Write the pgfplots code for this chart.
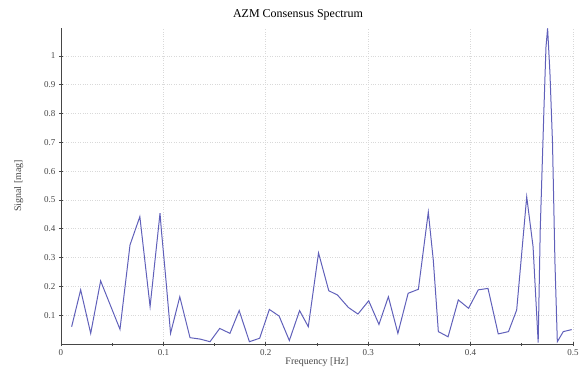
\documentclass[border=0pt]{standalone}
\usepackage{fontspec}
\setmainfont{Liberation Serif}
\usepackage{pgfplots}
\pgfplotsset{compat=1.18}
\definecolor{lineblue}{RGB}{96,96,186}
\definecolor{axgray}{RGB}{70,70,70}
\begin{document}
\begin{tikzpicture}
\begin{axis}[
  at={(0,0)}, anchor=south west,
  scale only axis, width=512pt, height=316pt,
  xmin=0, xmax=0.5, ymin=0, ymax=1.097,
  axis lines*=left,
  axis line style={axgray, line width=0.7pt},
  xtick={0,0.1,0.2,0.3,0.4,0.5},
  xticklabels={0,0.1,0.2,0.3,0.4,0.5},
  minor xtick={0.05,0.15,0.25,0.35,0.45},
  ytick={0.1,0.2,0.3,0.4,0.5,0.6,0.7,0.8,0.9,1},
  yticklabels={0.1,0.2,0.3,0.4,0.5,0.6,0.7,0.8,0.9,1},
  tick style={axgray, line width=0.6pt},
  major tick length=4pt, minor tick length=3pt,
  tick align=center,
  grid=major,
  major grid style={gray!30, dotted, line width=0.6pt},
  ticklabel style={font=\fontsize{9}{10}\selectfont, text=axgray},
  /pgf/number format/assume math mode=true,
  title={AZM Consensus Spectrum},
  title style={font=\fontsize{12}{14}\selectfont, at={(0.463,1)}, yshift=-2pt},
  xlabel={Frequency [Hz]},
  ylabel={Signal [mag]},
  label style={font=\fontsize{10}{11}\selectfont, text=axgray},
  xlabel style={yshift=5pt},
  ylabel style={yshift=14pt},
]
\addplot[color=lineblue, line width=1pt, mark=none] coordinates {
(0.0104,0.060) (0.0192,0.188) (0.029,0.037) (0.0387,0.219) (0.0576,0.051)
(0.0674,0.344) (0.077,0.442) (0.087,0.130) (0.0967,0.454) (0.098,0.396)
(0.1025,0.222) (0.107,0.037) (0.116,0.164) (0.126,0.022) (0.136,0.017)
(0.1455,0.008) (0.155,0.054) (0.165,0.037) (0.174,0.116) (0.184,0.008)
(0.194,0.020) (0.2035,0.120) (0.213,0.097) (0.223,0.012) (0.233,0.116)
(0.2415,0.060) (0.2515,0.316) (0.2615,0.185) (0.270,0.170) (0.2806,0.127)
(0.290,0.104) (0.3005,0.150) (0.3105,0.068) (0.3197,0.164) (0.329,0.037)
(0.339,0.176) (0.349,0.190) (0.3587,0.458) (0.3636,0.290) (0.3685,0.043)
(0.378,0.025) (0.388,0.153) (0.398,0.124) (0.4075,0.188) (0.417,0.193)
(0.427,0.035) (0.437,0.043) (0.445,0.118) (0.4548,0.511) (0.461,0.338)
(0.466,0.005) (0.468,0.396) (0.4717,0.824) (0.4736,1.03) (0.4752,1.096)
(0.4775,0.94) (0.480,0.697) (0.4824,0.28) (0.4847,0.008) (0.4905,0.043)
(0.4987,0.050)
};
\end{axis}
\pgfresetboundingbox
\useasboundingbox (-61pt,-37pt) rectangle (523pt,344pt);
\end{tikzpicture}
\end{document}
